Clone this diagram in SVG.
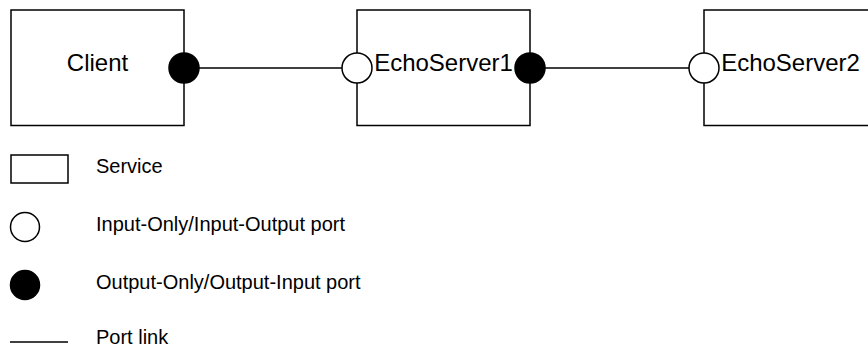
<svg xmlns="http://www.w3.org/2000/svg" width="868" height="349" viewBox="0 0 868 349">
  <style>
    .box { fill: #ffffff; stroke: #000000; stroke-width: 1.5; }
    .in { fill: #ffffff; stroke: #000000; stroke-width: 1.5; }
    .out { fill: #000000; stroke: #000000; stroke-width: 1.5; }
    .link { stroke: #000000; stroke-width: 1.5; fill: none; }
    .name { font-family: "Liberation Sans", Arial, sans-serif; font-size: 24px; fill: #000000; text-anchor: middle; }
    .legend { font-family: "Liberation Sans", Arial, sans-serif; font-size: 20px; fill: #000000; }
  </style>

  <!-- service boxes -->
  <g id="client">
    <rect class="box" x="11" y="10" width="173" height="115.5"/>
    <text class="name" x="97.5" y="71">Client</text>
  </g>
  <g id="echoserver1">
    <rect class="box" x="357" y="10" width="173" height="115.5"/>
    <text class="name" x="443.5" y="71">EchoServer1</text>
  </g>
  <g id="echoserver2">
    <rect class="box" x="704" y="10" width="173" height="115.5"/>
    <text class="name" x="790.5" y="71">EchoServer2</text>
  </g>

  <!-- port links -->
  <g id="links">
    <line class="link" x1="184" y1="68" x2="357" y2="68"/>
    <line class="link" x1="530" y1="68" x2="704" y2="68"/>
  </g>

  <!-- ports -->
  <g id="ports">
    <circle class="out" cx="184" cy="68" r="15"/>
    <circle class="in" cx="357" cy="68" r="15"/>
    <circle class="out" cx="530" cy="68" r="15"/>
    <circle class="in" cx="704" cy="68" r="15"/>
  </g>

  <!-- legend -->
  <g id="legend">
    <rect class="box" x="11" y="155" width="57" height="28"/>
    <text class="legend" x="96" y="173">Service</text>
    <circle class="in" cx="25" cy="227" r="14.5"/>
    <text class="legend" x="96" y="231">Input-Only/Input-Output port</text>
    <circle class="out" cx="25" cy="285" r="14.5"/>
    <text class="legend" x="96" y="289">Output-Only/Output-Input port</text>
    <line class="link" x1="10" y1="342" x2="68" y2="342"/>
    <text class="legend" x="96" y="344">Port link</text>
  </g>
</svg>
